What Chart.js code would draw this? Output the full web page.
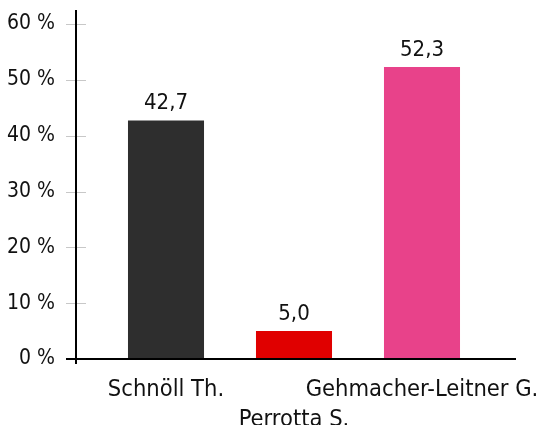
<!DOCTYPE html>
<html lang="de">
<head>
    <meta charset="UTF-8">
    <title>Ergebnis</title>
    <style>
        html, body {
            margin: 0;
            padding: 0;
            background: #fff;
        }
        .wrap {
            width: 540px;
            height: 425px;
        }
    </style>
    <script src="https://cdn.jsdelivr.net/npm/chart.js"></script>
</head>
<body>
    <div class="wrap">
        <canvas id="chart" width="540" height="425"></canvas>
    </div>

    <script>
        // data
        const candidates = ['Schnöll Th.', 'Perrotta S.', 'Gehmacher-Leitner G.'];
        const shares = [42.7, 5.0, 52.3];
        const barColors = ['#2e2e2e', '#e00000', '#e8428a'];
        const yTicks = [0, 10, 20, 30, 40, 50, 60];

        const FONT = '"DejaVu Sans Condensed", "DejaVu Sans", sans-serif';
        const TEXT = '#111';

        function fmt(v) {
            return v.toFixed(1).replace('.', ',');
        }

        // axis lines + gray tick marks, drawn left of the plot area
        const axisPlugin = {
            id: 'axisLines',
            afterDatasetsDraw(chart) {
                const ctx = chart.ctx;
                const area = chart.chartArea;
                const y = chart.scales.y;
                const axisX = area.left - 26;
                const zeroY = y.getPixelForValue(0);
                ctx.save();
                ctx.strokeStyle = '#c8c8c8';
                ctx.lineWidth = 1;
                yTicks.forEach(t => {
                    if (t === 0) return;
                    const py = Math.round(y.getPixelForValue(t)) + 0.5;
                    ctx.beginPath();
                    ctx.moveTo(area.left - 36, py);
                    ctx.lineTo(area.left - 16, py);
                    ctx.stroke();
                });
                ctx.strokeStyle = '#000';
                ctx.lineWidth = 2;
                ctx.beginPath();
                ctx.moveTo(axisX, area.top - 14);
                ctx.lineTo(axisX, zeroY + 5);
                ctx.stroke();
                ctx.beginPath();
                ctx.moveTo(area.left - 36, zeroY);
                ctx.lineTo(area.right + 30, zeroY);
                ctx.stroke();
                ctx.restore();
            }
        };

        // value labels above bars
        const valuePlugin = {
            id: 'valueLabels',
            afterDatasetsDraw(chart) {
                const ctx = chart.ctx;
                const meta = chart.getDatasetMeta(0);
                ctx.save();
                ctx.font = '22px ' + FONT;
                ctx.fillStyle = TEXT;
                ctx.textAlign = 'center';
                ctx.textBaseline = 'bottom';
                meta.data.forEach((bar, i) => {
                    ctx.fillText(fmt(shares[i]), bar.x, bar.y - 6);
                });
                ctx.restore();
            }
        };

        new Chart(document.getElementById('chart'), {
            type: 'bar',
            data: {
                labels: candidates,
                datasets: [{
                    data: shares,
                    backgroundColor: barColors,
                    borderWidth: 0,
                    categoryPercentage: 1,
                    barPercentage: 0.594
                }]
            },
            options: {
                responsive: false,
                animation: false,
                layout: {
                    padding: { top: 24, right: 54, bottom: 0, left: 0 }
                },
                plugins: {
                    legend: { display: false },
                    tooltip: { enabled: false }
                },
                scales: {
                    x: {
                        grid: { display: false },
                        border: { display: false },
                        afterFit: s => {
                            s.height = 66;
                            s.paddingLeft = 0;
                            s.paddingRight = 0;
                        },
                        ticks: {
                            color: TEXT,
                            padding: 8,
                            maxRotation: 0,
                            autoSkip: false,
                            font: { family: FONT, size: 23.5, lineHeight: 1.27 },
                            // middle label goes on a second line
                            callback: (v, i) => i === 1 ? ['', candidates[i]] : candidates[i]
                        }
                    },
                    y: {
                        min: 0,
                        max: 60,
                        grid: { display: false },
                        border: { display: false },
                        afterFit: s => {
                            s.width = 102;
                            s.paddingTop = 0;
                            s.paddingBottom = 0;
                        },
                        afterBuildTicks: s => { s.ticks = yTicks.map(v => ({ value: v })); },
                        ticks: {
                            color: TEXT,
                            padding: 39,
                            font: { family: FONT, size: 21 },
                            callback: v => v + ' %'
                        }
                    }
                }
            },
            plugins: [axisPlugin, valuePlugin]
        });
    </script>
</body>
</html>
